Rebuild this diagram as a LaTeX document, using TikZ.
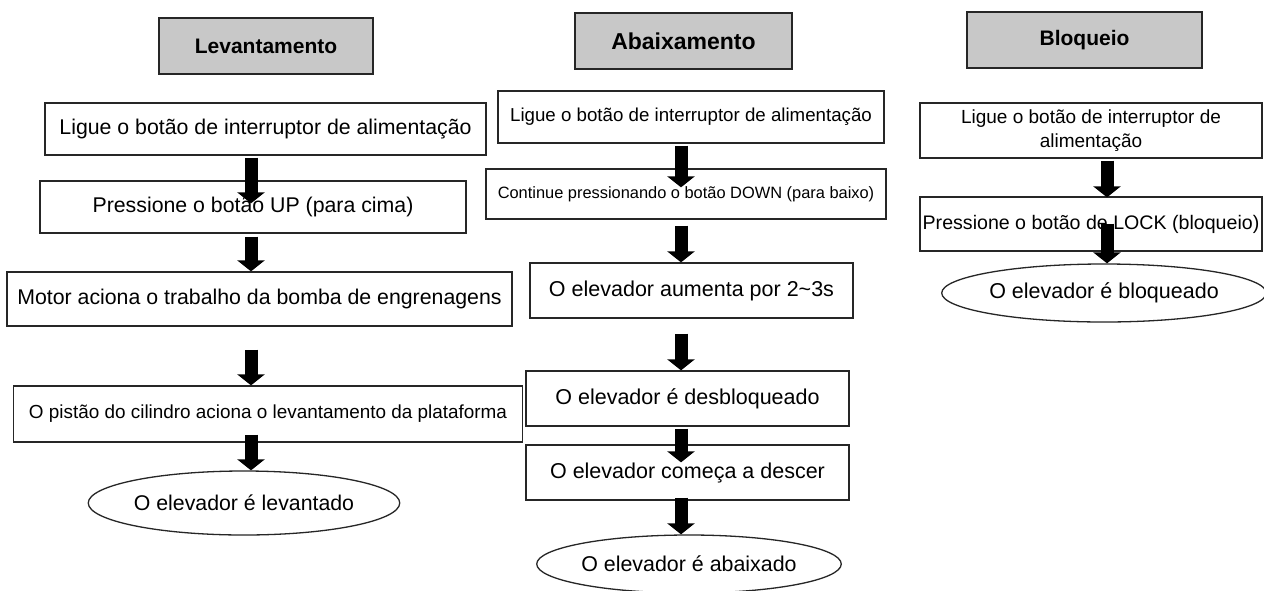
\documentclass[tikz,border=0pt]{standalone}
\usepackage{fontspec}
\setmainfont{Liberation Sans}
\definecolor{boxLine}{HTML}{262626}
\definecolor{titleFill}{HTML}{C8C8C8}
\usetikzlibrary{calc, shapes.geometric, arrows.meta}

\tikzset{
  stepbox/.style={draw=boxLine, line width=1.3pt, fill=white, inner sep=0pt, align=center},
  titlebox/.style={stepbox, fill=titleFill, minimum height=56pt, font=\fontsize{21}{24}\selectfont\bfseries},
  endoval/.style={ellipse, draw=boxLine, line width=1.3pt, fill=white, inner sep=0pt},
  downarrow/.style={black, line width=13pt, -{Triangle[width=27pt, length=11pt]}},
}

\begin{document}
\begin{tikzpicture}[x=1pt, y=-1pt]
  \useasboundingbox (0,0) rectangle (1264,590);
  \fill[white] (0,0) rectangle (1264,590);

  % column headers
  \node[titlebox, minimum width=214pt] (tLev) at (266,46) {Levantamento};
  \node[titlebox, minimum width=217pt, font=\fontsize{23}{26}\selectfont\bfseries] (tAba) at (683.5,41) {Abaixamento};
  \node[titlebox, minimum width=235pt] (tBlo) at (1084.5,40) {Bloqueio};

  % lifting steps
  \node[stepbox, minimum width=441pt, minimum height=52pt, font=\fontsize{21.3}{24}\selectfont] (lev1) at (265.5,129)
    {Ligue o botão de interruptor de alimentação};
  \node[stepbox, minimum width=426pt, minimum height=52pt, font=\fontsize{21.3}{24}\selectfont] (lev2) at (253,207)
    {Pressione o botão UP (para cima)};
  \node[stepbox, minimum width=505pt, minimum height=54pt, font=\fontsize{21.3}{24}\selectfont] (lev3) at (259.5,299)
    {Motor aciona o trabalho da bomba de engrenagens};
  \node[stepbox, minimum width=509pt, minimum height=56pt, font=\fontsize{18.9}{22}\selectfont] (lev4) at (268,414)
    {O pistão do cilindro aciona o levantamento da plataforma};
  \node[endoval, minimum width=299pt, minimum height=64pt, font=\fontsize{21.3}{24}\selectfont] (levEnd) at (244,503)
    {O elevador é levantado};

  % lowering steps
  \node[stepbox, minimum width=386pt, minimum height=52pt, font=\fontsize{18.7}{22}\selectfont] (aba1) at (691,117)
    {Ligue o botão de interruptor de alimentação};
  \node[stepbox, minimum width=400pt, minimum height=50pt, font=\fontsize{16.4}{20}\selectfont] (aba2) at (686,194)
    {Continue pressionando o botão DOWN (para baixo)};
  \node[stepbox, minimum width=323pt, minimum height=55pt, font=\fontsize{21.5}{24}\selectfont] (aba3) at (691.5,290.5)
    {O elevador aumenta por 2\textasciitilde3s};
  \node[stepbox, minimum width=323pt, minimum height=55pt, font=\fontsize{21.5}{24}\selectfont] (aba4) at (687.5,398.5)
    {O elevador é desbloqueado};
  \node[stepbox, minimum width=323pt, minimum height=55pt, font=\fontsize{21.5}{24}\selectfont] (aba5) at (687.5,472.5)
    {O elevador começa a descer};
  \node[endoval, minimum width=302pt, minimum height=58pt, font=\fontsize{21.4}{24}\selectfont] (abaEnd) at (689,564)
    {O elevador é abaixado};

  % locking steps
  \node[stepbox, minimum width=342pt, minimum height=55pt, font=\fontsize{19}{23.5}\selectfont] (blo1) at (1091,130.5)
    {Ligue o botão de interruptor de\\alimentação};
  \node[stepbox, minimum width=342pt, minimum height=54pt, font=\fontsize{19.6}{23}\selectfont] (blo2) at (1091,224)
    {Pressione o botão de LOCK (bloqueio)};
  \node[endoval, minimum width=318pt, minimum height=58pt, font=\fontsize{21.5}{24}\selectfont] (bloEnd) at (1104,293)
    {O elevador é bloqueado};

  % arrow columns
  \coordinate (colL) at (251,0);
  \coordinate (colA) at (681,0);
  \coordinate (colB) at (1107,0);

  \draw[downarrow] ($(lev1.south -| colL)+(0,2)$) -- ($(lev2.north -| colL)+(0,23)$);
  \draw[downarrow] ($(lev2.south -| colL)+(0,3)$) -- ($(lev3.north -| colL)+(0,0)$);
  \draw[downarrow] ($(lev3.south -| colL)+(0,23)$) -- ($(lev4.north -| colL)+(0,0)$);
  \draw[downarrow] ($(lev4.south -| colL)+(0,-8)$) -- ($(levEnd.north -| colL)+(0,0)$);

  \draw[downarrow] ($(aba1.south -| colA)+(0,2)$) -- ($(aba2.north -| colA)+(0,19)$);
  \draw[downarrow] ($(aba2.south -| colA)+(0,6)$) -- ($(aba3.north -| colA)+(0,0)$);
  \draw[downarrow] ($(aba3.south -| colA)+(0,15)$) -- ($(aba4.north -| colA)+(0,0)$);
  \draw[downarrow] ($(aba4.south -| colA)+(0,2)$) -- ($(aba5.north -| colA)+(0,18)$);
  \draw[downarrow] ($(aba5.south -| colA)+(0,-3)$) -- ($(abaEnd.north -| colA)+(0,0)$);

  \draw[downarrow] ($(blo1.south -| colB)+(0,2)$) -- ($(blo2.north -| colB)+(0,1)$);
  \draw[downarrow] ($(blo2.south -| colB)+(0,-28)$) -- ($(bloEnd.north -| colB)+(0,0)$);
\end{tikzpicture}
\end{document}
